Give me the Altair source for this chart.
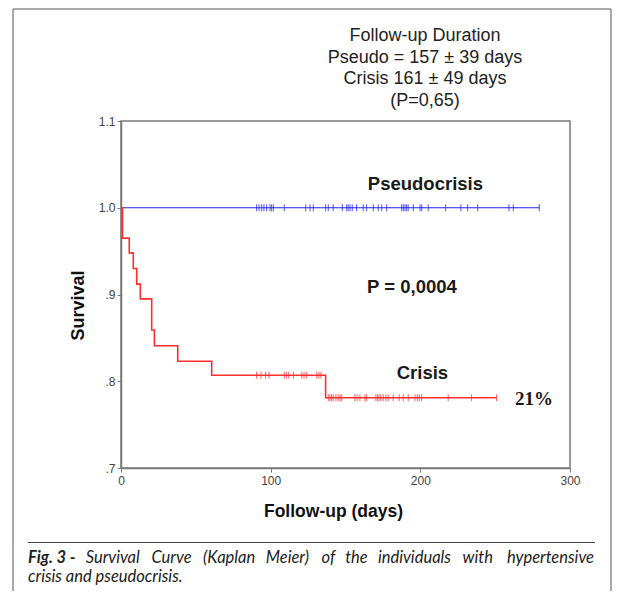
import altair as alt
import pandas as pd

# ---- data ----
crisis_days = [0, 1, 5.5, 8.2, 10.5, 12.9, 20.5, 22.3, 37.9, 60.6, 136.7, 251]
crisis_surv = [1.0, 0.965, 0.948, 0.930, 0.912, 0.895, 0.859, 0.841, 0.823, 0.807, 0.781, 0.781]
pseudo_days = [0, 279.5]
pseudo_surv = [1.0, 1.0]

crisis_censor_a = [90.6, 93.5, 96.6, 98.9, 109.1, 110.5, 112.1, 115.2, 120.8, 122.3, 124.1,
                   130.8, 132.3, 133.6]
crisis_level_a = 0.807
crisis_censor_b = [138.5, 139.6, 140.7, 141.8, 143.6, 145.1, 146.3, 147.4, 156.3, 157.8, 159.6,
                   163, 164.1, 170.3, 171.4, 172.5, 173.6, 175.2, 177, 178.5, 181.9, 185.9,
                   188.6, 191.9, 196.4, 198, 199.3, 200.9, 218.6, 234.2, 250.9]
crisis_level_b = 0.781
pseudo_censor = [90.6, 92.2, 94, 95.5, 97.3, 99.5, 100.6, 101.8, 109.1, 123.4, 126.3, 128.5,
                 136.7, 138.5, 141.8, 147.9, 150.8, 151.8, 153, 154.5, 157.4, 161.9, 164.1,
                 168.6, 171.9, 174.2, 177.5, 187.5, 188.6, 189.7, 190.8, 191.9, 195.3, 199.8,
                 200.9, 205.3, 216.9, 227.1, 231.6, 238.3, 259.2, 262.1, 279.5]
pseudo_level = 1.0

x_ticks = [0, 100, 200, 300]
y_ticks = [0.7, 0.8, 0.9, 1.0, 1.1]

label_texts = ["Pseudocrisis", "P = 0,0004", "Crisis"]
label_days = [203.4, 194.4, 201.4]
label_surv = [1.0207, 0.902, 0.803]
pct_text = "21%"
pct_day = 263.2
pct_surv = 0.773

header_lines = ["Follow-up Duration", "Pseudo = 157 \u00b1 39 days",
                "Crisis 161 \u00b1 49 days", "(P=0,65)"]
caption_bold = "Fig. 3 -"
caption_words1 = ["Survival", "Curve", "(Kaplan", "Meier)", "of", "the", "individuals", "with",
                  "hypertensive"]
caption_line2 = "crisis and pseudocrisis."

# ---- tables ----
crisis_df = pd.DataFrame({"day": crisis_days, "surv": crisis_surv})
pseudo_df = pd.DataFrame({"day": pseudo_days, "surv": pseudo_surv})
crisis_cens_df = pd.DataFrame({
    "day": crisis_censor_a + crisis_censor_b,
    "surv": [crisis_level_a] * len(crisis_censor_a) + [crisis_level_b] * len(crisis_censor_b),
})
pseudo_cens_df = pd.DataFrame({"day": pseudo_censor, "surv": [pseudo_level] * len(pseudo_censor)})
labels_df = pd.DataFrame({"day": label_days, "surv": label_surv, "txt": label_texts})
pct_df = pd.DataFrame({"day": [pct_day], "surv": [pct_surv], "txt": [pct_text]})
one = pd.DataFrame({"a": [0]})

W, H = 449, 347
AX = "#7a7a7a"

x_enc = alt.X("day:Q", scale=alt.Scale(domain=[0, 300], nice=False, zero=False),
              axis=alt.Axis(values=x_ticks, title="Follow-up (days)", grid=False,
                            format="d", labelFontSize=12, labelColor="#444", labelFont="Liberation Sans",
                            labelFlush=False, labelOverlap=False,
                            tickSize=4, tickColor=AX, domainColor=AX, domainWidth=1.5,
                            labelPadding=3, titleFont="Liberation Sans", titleFontSize=17.5,
                            titleFontWeight="bold", titleColor="#111",
                            titleX=212, titleY=48, titleAlign="center",
                            titleBaseline="alphabetic"))
y_enc = alt.Y("surv:Q", scale=alt.Scale(domain=[0.7, 1.1], nice=False, zero=False),
              axis=alt.Axis(values=y_ticks, title="Survival", grid=False,
                            labelExpr="datum.value >= 1 ? format(datum.value, '.1f') : '.' + format(datum.value * 10, '.0f')",
                            labelFlush=False, labelOverlap=False,
                            labelFontSize=12, labelColor="#444", labelFont="Liberation Sans",
                            tickSize=4, tickColor=AX, domainColor=AX, domainWidth=1.5,
                            labelPadding=2, titleFont="Liberation Sans", titleFontSize=18,
                            titleFontWeight="bold", titleColor="#111",
                            titleAngle=270, titleX=-38, titleY=184, titleAlign="center",
                            titleBaseline="alphabetic"))

pseudo_line = alt.Chart(pseudo_df).mark_line(color="#2222ff", strokeWidth=1.2,
                                              interpolate="step-after").encode(x=x_enc, y=y_enc)
crisis_line = alt.Chart(crisis_df).mark_line(color="#ff2e2e", strokeWidth=1.6,
                                              interpolate="step-after").encode(x=x_enc, y=y_enc)
pseudo_ticks = alt.Chart(pseudo_cens_df).mark_tick(color="#2222ff", size=7, thickness=1.1,
                                                   orient="vertical").encode(x=x_enc, y=y_enc)
crisis_ticks = alt.Chart(crisis_cens_df).mark_tick(color="#ff2e2e", size=7, thickness=1.1,
                                                   orient="vertical").encode(x=x_enc, y=y_enc)

labels = alt.Chart(labels_df).mark_text(font="Liberation Sans", fontSize=18.5, fontWeight="bold",
                                        color="#1a1a1a", align="center", baseline="alphabetic"
                                        ).encode(x=x_enc, y=y_enc, text="txt:N")
pct = alt.Chart(pct_df).mark_text(font="Liberation Serif", fontSize=19, fontWeight="bold",
                                  color="#1a1a1a", align="left", baseline="alphabetic"
                                  ).encode(x=x_enc, y=y_enc, text="txt:N")

# header lines above the plot (pixel offsets relative to plot area)
header_layers = []
for i, line in enumerate(header_lines):
    header_layers.append(
        alt.Chart(one).mark_text(font="Liberation Sans", fontSize=18, color="#222",
                                 align="center", baseline="alphabetic")
        .encode(x=alt.value(304), y=alt.value(-80 + i * 21.7), text=alt.value(line))
    )

# outer frame and caption decorations (pixel offsets relative to plot area)
frame_left = alt.Chart(one).mark_rule(color="#555", strokeWidth=1).encode(
    x=alt.value(-108), y=alt.value(-112), y2=alt.value(480))
frame_right = alt.Chart(one).mark_rule(color="#555", strokeWidth=1).encode(
    x=alt.value(490), y=alt.value(-112), y2=alt.value(480))
frame_top = alt.Chart(one).mark_rule(color="#555", strokeWidth=1).encode(
    x=alt.value(-108), x2=alt.value(490), y=alt.value(-112))
sep = alt.Chart(one).mark_rule(color="#444", strokeWidth=1).encode(
    x=alt.value(-93), x2=alt.value(474), y=alt.value(421.5))

CAP = dict(font="Lato", fontSize=16.5, fontStyle="italic", color="#222", baseline="alphabetic")
cap_layers = [alt.Chart(one).mark_text(fontWeight="bold", align="left", **CAP).encode(
    x=alt.value(-93), y=alt.value(442), text=alt.value(caption_bold))]
# justified first line: word anchors
word_x = [-35.3, 30.4, 82.1, 144.8, 200.5, 224.2, 256.9, 341.6, 473]
for w, xpos in zip(caption_words1, word_x):
    cap_layers.append(alt.Chart(one).mark_text(
        align="right" if w == caption_words1[-1] else "left", **CAP).encode(
        x=alt.value(xpos), y=alt.value(442), text=alt.value(w)))
cap_layers.append(alt.Chart(one).mark_text(align="left", **CAP).encode(
    x=alt.value(-93), y=alt.value(461), text=alt.value(caption_line2)))

chart = alt.layer(
    pseudo_line, crisis_line, pseudo_ticks, crisis_ticks, labels, pct,
    *header_layers, frame_left, frame_right, frame_top, sep, *cap_layers
).properties(
    width=W, height=H,
    autosize=alt.AutoSizeParams(type="none"),
    padding={"left": 113, "top": 113, "right": 42, "bottom": 123},
    background="white",
).configure_view(stroke=AX, strokeWidth=1.5)

chart.save("out.html", embed_options={"renderer": "svg", "actions": False})
